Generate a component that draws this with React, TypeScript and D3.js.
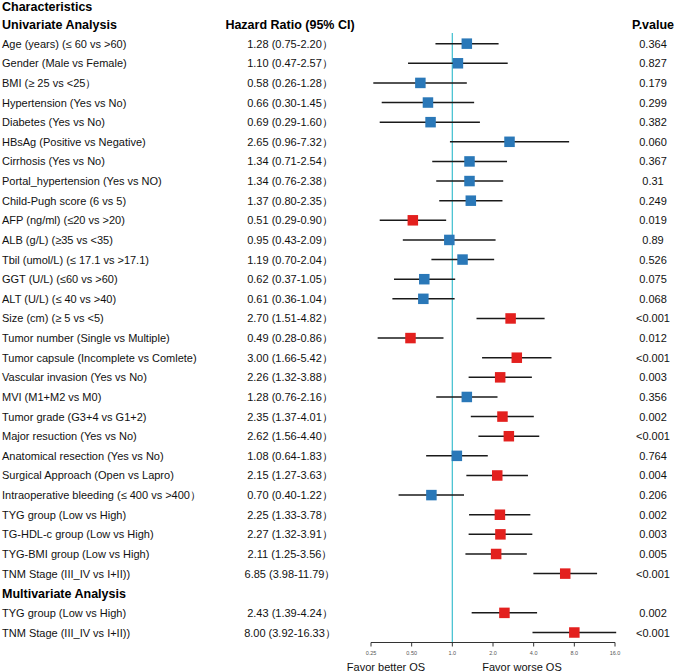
import React from "react";
import * as d3 from "d3";

const labels = [
  "Age (years) (≤ 60 vs >60)",
  "Gender (Male vs Female)",
  "BMI (≥ 25 vs <25）",
  "Hypertension (Yes vs No)",
  "Diabetes (Yes vs No)",
  "HBsAg (Positive vs Negative)",
  "Cirrhosis (Yes vs No)",
  "Portal_hypertension (Yes vs NO)",
  "Child-Pugh score (6 vs 5)",
  "AFP (ng/ml) (≤20 vs >20)",
  "ALB (g/L) (≥35 vs <35)",
  "Tbil (umol/L) (≤ 17.1 vs >17.1)",
  "GGT (U/L) (≤60 vs >60)",
  "ALT (U/L) (≤ 40 vs >40)",
  "Size (cm) (≥ 5 vs <5)",
  "Tumor number (Single vs Multiple)",
  "Tumor capsule (Incomplete vs Comlete)",
  "Vascular invasion (Yes vs No)",
  "MVI (M1+M2 vs M0)",
  "Tumor grade (G3+4 vs G1+2)",
  "Major resuction (Yes vs No)",
  "Anatomical resection (Yes vs No)",
  "Surgical Approach (Open vs Lapro)",
  "Intraoperative bleeding (≤ 400 vs >400）",
  "TYG group (Low vs High)",
  "TG-HDL-c group (Low vs High)",
  "TYG-BMI group (Low vs High)",
  "TNM Stage (III_IV vs I+II))",
];
const hr = [1.28, 1.1, 0.58, 0.66, 0.69, 2.65, 1.34, 1.34, 1.37, 0.51, 0.95, 1.19, 0.62, 0.61, 2.7, 0.49, 3.0, 2.26, 1.28, 2.35, 2.62, 1.08, 2.15, 0.7, 2.25, 2.27, 2.11, 6.85];
const lower = [0.75, 0.47, 0.26, 0.3, 0.29, 0.96, 0.71, 0.76, 0.8, 0.29, 0.43, 0.7, 0.37, 0.36, 1.51, 0.28, 1.66, 1.32, 0.76, 1.37, 1.56, 0.64, 1.27, 0.4, 1.33, 1.32, 1.25, 3.98];
const upper = [2.2, 2.57, 1.28, 1.45, 1.6, 7.32, 2.54, 2.38, 2.35, 0.9, 2.09, 2.04, 1.05, 1.04, 4.82, 0.86, 5.42, 3.88, 2.16, 4.01, 4.4, 1.83, 3.63, 1.22, 3.78, 3.91, 3.56, 11.79];
const pvals = ["0.364", "0.827", "0.179", "0.299", "0.382", "0.060", "0.367", "0.31", "0.249", "0.019", "0.89", "0.526", "0.075", "0.068", "<0.001", "0.012", "<0.001", "0.003", "0.356", "0.002", "<0.001", "0.764", "0.004", "0.206", "0.002", "0.003", "0.005", "<0.001"];

const mLabels = ["TYG group (Low vs High)", "TNM Stage (III_IV vs I+II))"];
const mHr = [2.43, 8.0];
const mLower = [1.39, 3.92];
const mUpper = [4.24, 16.33];
const mPvals = ["0.002", "<0.001"];

const tickValues = [0.25, 0.5, 1, 2, 4, 8, 16];
const tickLabels = ["0.25", "0.50", "1.0", "2.0", "4.0", "8.0", "16.0"];

const FONT = "Arial, 'Liberation Sans', Helvetica, sans-serif";
const BLUE = "#2a78b8";
const RED = "#e3201e";

type Row = { label: string; hr: number; lo: number; hi: number; p: string; idx: number };

export default function App() {
  const x = d3.scaleLog().base(2).domain([0.25, 16]).range([371, 615]);
  const y = d3.scaleLinear().domain([0, 32]).range([4.4, 632.5]);

  const rows: Row[] = [];
  labels.forEach((l, i) => rows.push({ label: l, hr: hr[i], lo: lower[i], hi: upper[i], p: pvals[i], idx: i + 2 }));
  mLabels.forEach((l, i) => rows.push({ label: l, hr: mHr[i], lo: mLower[i], hi: mUpper[i], p: mPvals[i], idx: i + 31 }));

  const fmt = (v: number) => v.toFixed(2);
  const isSig = (p: string) => p.startsWith("<") || parseFloat(p) < 0.05;
  const axisY = 642.5;
  const sq = 10.5;

  return (
    <svg width={676} height={672} style={{ position: "absolute", left: 0, top: 0, background: "#fff" }} fontFamily={FONT}>
      <rect width={676} height={672} fill="#fff" />
      <text x={2} y={10.5} fontSize={12.5} fontWeight="bold">Characteristics</text>
      <text x={2} y={y(1) + 4.5} fontSize={12.5} fontWeight="bold">Univariate Analysis</text>
      <text x={290} y={y(1) + 4.5} fontSize={12.5} fontWeight="bold" textAnchor="middle">Hazard Ratio (95% CI)</text>
      <text x={653} y={y(1) + 4.5} fontSize={12.5} fontWeight="bold" textAnchor="middle">P.value</text>
      <text x={2} y={y(30) + 4.5} fontSize={12.5} fontWeight="bold">Multivariate Analysis</text>

      <line x1={x(1)} x2={x(1)} y1={33} y2={axisY} stroke="#4cc3d3" strokeWidth={1.3} />

      {rows.map((r) => {
        const cy = y(r.idx);
        const col = isSig(r.p) ? RED : BLUE;
        return (
          <g key={r.idx}>
            <text x={2} y={cy + 4} fontSize={11} fill="#111">{r.label}</text>
            <text x={290} y={cy + 4} fontSize={11} fill="#111" textAnchor="middle">
              {`${fmt(r.hr)} (${fmt(r.lo)}-${fmt(r.hi)}）`}
            </text>
            <text x={653} y={cy + 4} fontSize={11} fill="#111" textAnchor="middle">{r.p}</text>
            <line x1={x(Math.max(r.lo, 0.25))} x2={x(Math.min(r.hi, 16.5))} y1={cy} y2={cy} stroke="#1a1a1a" strokeWidth={1.5} />
            <rect x={x(r.hr) - sq / 2} y={cy - sq / 2} width={sq} height={sq} fill={col} />
          </g>
        );
      })}

      <line x1={x(0.25)} x2={x(16)} y1={axisY} y2={axisY} stroke="#333" strokeWidth={1} />
      {tickValues.map((t, i) => (
        <g key={t}>
          <line x1={x(t)} x2={x(t)} y1={axisY} y2={axisY + 4} stroke="#333" strokeWidth={1} />
          <text x={x(t)} y={axisY + 12.5} fontSize={5.5} fill="#555" textAnchor="middle">{tickLabels[i]}</text>
        </g>
      ))}
      <text x={386} y={670.5} fontSize={11} textAnchor="middle" fill="#111">Favor better OS</text>
      <text x={522} y={670.5} fontSize={11} textAnchor="middle" fill="#111">Favor worse OS</text>
    </svg>
  );
}
